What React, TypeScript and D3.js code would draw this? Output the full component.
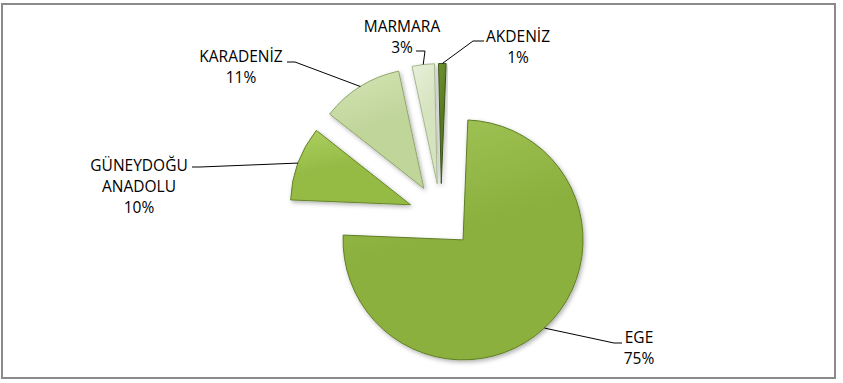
import React from "react";
import * as d3 from "d3";

// ---- data ----
const categories = ["EGE", "GÜNEYDOĞU ANADOLU", "KARADENİZ", "MARMARA", "AKDENİZ"];
const labelLines = [["EGE"], ["GÜNEYDOĞU", "ANADOLU"], ["KARADENİZ"], ["MARMARA"], ["AKDENİZ"]];
const values = [75, 10, 11, 3, 1];

// ---- styles ----
const lightColors = ["#a3c65a", "#aed063", "#d5e5b6", "#e8f0da", "#6f9230"];
const baseColors = ["#8cb03e", "#95bb45", "#c0d59a", "#d5e3be", "#587a22"];
const edgeColors = ["#5f7d24", "#66852a", "#8fa66a", "#a7b78e", "#3d561a"];

// ---- label layout (relative to pie centre), not data ----
const labelLayout = [
  { tx: 198, ty: 127, attach: [181, 127], elbow: [173, 127] },
  { tx: -302, ty: -45, attach: [-249, -49], elbow: [-241, -49] },
  { tx: -200, ty: -154, attach: [-154, -154], elbow: [-146, -154] },
  { tx: -39, ty: -184, attach: [-25, -165], elbow: [-16, -165] },
  { tx: 77, ty: -174, attach: [43, -175], elbow: [32, -175] },
];

export default function App() {
  const W = 843;
  const H = 383;
  const cx = 441;
  const cy = 216;
  const R = 120;
  const explode = 32.5;
  const offset = (2.3 * Math.PI) / 180;
  const fontSize = 15.5;
  const lineH = 21;

  const total = d3.sum(values);
  const fmt = d3.format(".0%");
  const pie = d3
    .pie<number>()
    .sort(null)
    .startAngle(offset)
    .endAngle(offset + 2 * Math.PI);
  const arcs = pie(values);
  const arcGen = d3.arc<d3.PieArcDatum<number>>().innerRadius(0).outerRadius(R);
  const rimGen = d3.arc<d3.PieArcDatum<number>>().innerRadius(R).outerRadius(R);

  return (
    <svg
      width={W}
      height={H}
      style={{ position: "absolute", left: 0, top: 0, display: "block", background: "#fff" }}
      fontFamily="'Open Sans', 'Noto Sans', sans-serif"
    >
      <defs>
        {arcs.map((a, i) => (
          <linearGradient key={i} id={`g${i}`} x1="0" y1="0" x2="0.3" y2="1">
            <stop offset="0%" stopColor={lightColors[i]} />
            <stop offset="55%" stopColor={baseColors[i]} />
            <stop offset="100%" stopColor={baseColors[i]} />
          </linearGradient>
        ))}
        <filter id="shadow" x="-20%" y="-20%" width="140%" height="140%">
          <feDropShadow dx="1.5" dy="2" stdDeviation="2" floodColor="#000" floodOpacity="0.3" />
        </filter>
      </defs>
      <rect x={2} y={4} width={833} height={374} fill="#fff" stroke="#8a8a8a" strokeWidth={2} />
      <g transform={`translate(${cx},${cy})`}>
        {arcs.map((a, i) => {
          const mid = (a.startAngle + a.endAngle) / 2;
          const dx = explode * Math.sin(mid);
          const dy = -explode * Math.cos(mid);
          return (
            <g key={i} transform={`translate(${dx},${dy})`}>
              <path
                d={arcGen(a) || ""}
                fill={`url(#g${i})`}
                stroke={edgeColors[i]}
                strokeWidth={1}
                strokeLinejoin="round"
                filter="url(#shadow)"
              />
            </g>
          );
        })}
        {arcs.map((a, i) => {
          const mid = (a.startAngle + a.endAngle) / 2;
          const dx = explode * Math.sin(mid);
          const dy = -explode * Math.cos(mid);
          const [px, py] = rimGen.centroid(a);
          const L = labelLayout[i];
          const lines = [...labelLines[i], fmt(values[i] / total)];
          return (
            <g key={`l${i}`}>
              <polyline
                points={`${px + dx},${py + dy} ${L.elbow[0]},${L.elbow[1]} ${L.attach[0]},${L.attach[1]}`}
                fill="none"
                stroke="#000"
                strokeWidth={1}
              />
              <text
                x={L.tx}
                y={L.ty}
                textAnchor="middle"
                fontSize={fontSize}
                fill="#000"
              >
                {lines.map((t, j) => (
                  <tspan key={j} x={L.tx} dy={j === 0 ? 0 : lineH}>
                    {t}
                  </tspan>
                ))}
              </text>
            </g>
          );
        })}
      </g>
    </svg>
  );
}
